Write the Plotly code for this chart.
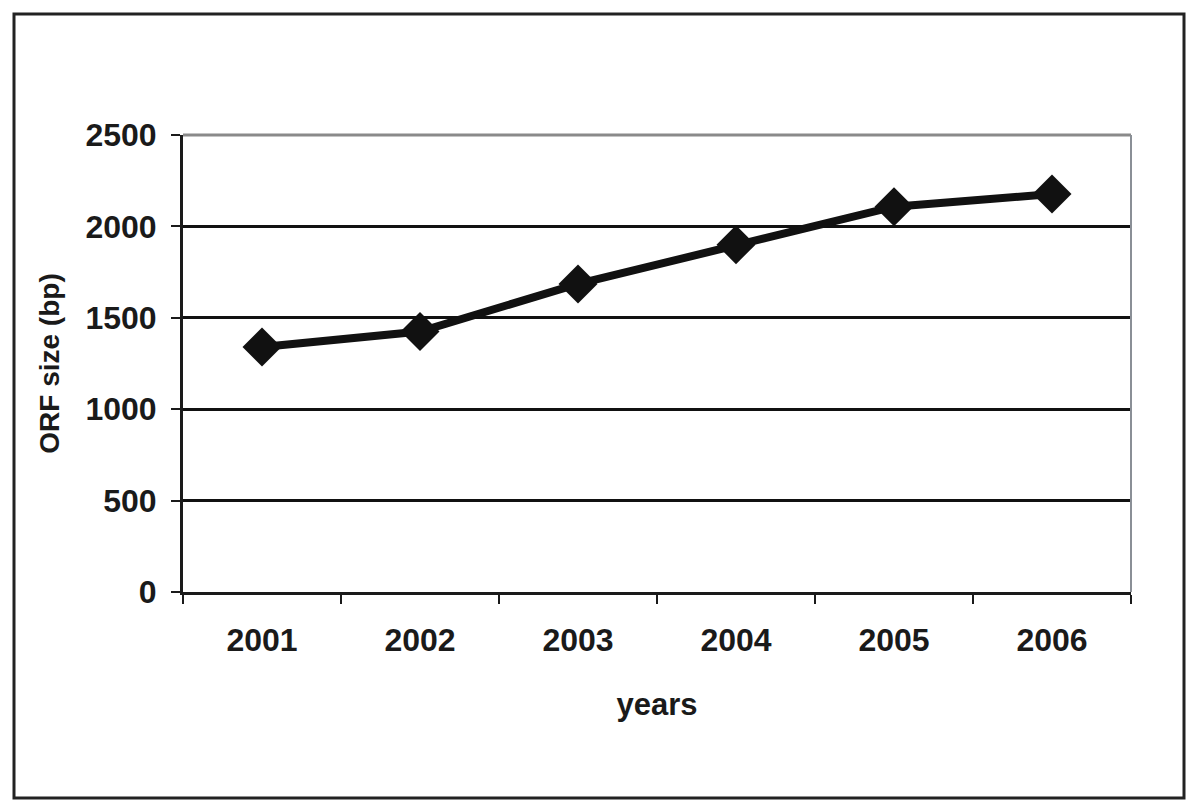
"""
ORF size (bp) by year, 2001-2006
"""
import plotly.graph_objects as go

# Datos
years = ["2001", "2002", "2003", "2004", "2005", "2006"]
orf_size = [1340, 1425, 1685, 1900, 2108, 2177]
y_ticks = [0, 500, 1000, 1500, 2000, 2500]

FONT = "Liberation Sans, Arial, sans-serif"

fig = go.Figure()

fig.add_trace(go.Scatter(
    x=years,
    y=orf_size,
    mode="lines+markers",
    line=dict(color="#111111", width=8),
    marker=dict(symbol="diamond", size=30, color="#111111"),
    showlegend=False,
))

# La página desplaza la figura ~8px (margen del body)
OFF = 8
W, H = 1200, 810
L, R, T, B = 183 - OFF, 1131 - OFF, 135 - OFF, 592 - OFF
pw, ph = R - L, B - T

# Marco exterior y bordes grises del área de trazado
fig.add_shape(type="rect", xref="paper", yref="paper",
              x0=(14 - OFF - L) / pw, x1=(1184 - OFF - L) / pw,
              y0=(B - (798 - OFF)) / ph, y1=(B - (14 - OFF)) / ph,
              line=dict(color="#222222", width=3))
fig.add_shape(type="line", xref="paper", yref="paper",
              x0=0, x1=1, y0=1, y1=1, layer="above",
              line=dict(color="#8a8a8a", width=3))
fig.add_shape(type="line", xref="paper", yref="paper",
              x0=1, x1=1, y0=0, y1=1, layer="above",
              line=dict(color="#8a8f96", width=2))

fig.update_layout(
    width=W, height=H,
    margin=dict(l=L, r=W - R, t=T, b=H - B),
    paper_bgcolor="white",
    plot_bgcolor="white",
    font=dict(family=FONT, color="#1a1a1a", size=30),
)

fig.update_xaxes(
    type="category",
    range=[-0.5, 5.5],
    tickson="boundaries",
    ticks="outside", ticklen=9, tickwidth=2, tickcolor="#1a1a1a",
    showline=True, linecolor="#1a1a1a", linewidth=3,
    showgrid=False,
    tickfont=dict(family=FONT, size=32, weight="bold"),
    ticklabelstandoff=18,
    title=dict(text="<b>years</b>", standoff=36,
               font=dict(family=FONT, size=31)),
)

fig.update_yaxes(
    range=[0, 2500],
    tickvals=y_ticks,
    ticks="outside", ticklen=9, tickwidth=2, tickcolor="#1a1a1a",
    showline=True, linecolor="#1a1a1a", linewidth=3,
    showgrid=True, gridcolor="#111111", gridwidth=2.5,
    zeroline=False,
    tickfont=dict(family=FONT, size=32, weight="bold"),
    ticklabelstandoff=8,
    title=dict(text="<b>ORF size (bp)</b>", standoff=18,
               font=dict(family=FONT, size=28)),
)

fig.write_html("out.html")
